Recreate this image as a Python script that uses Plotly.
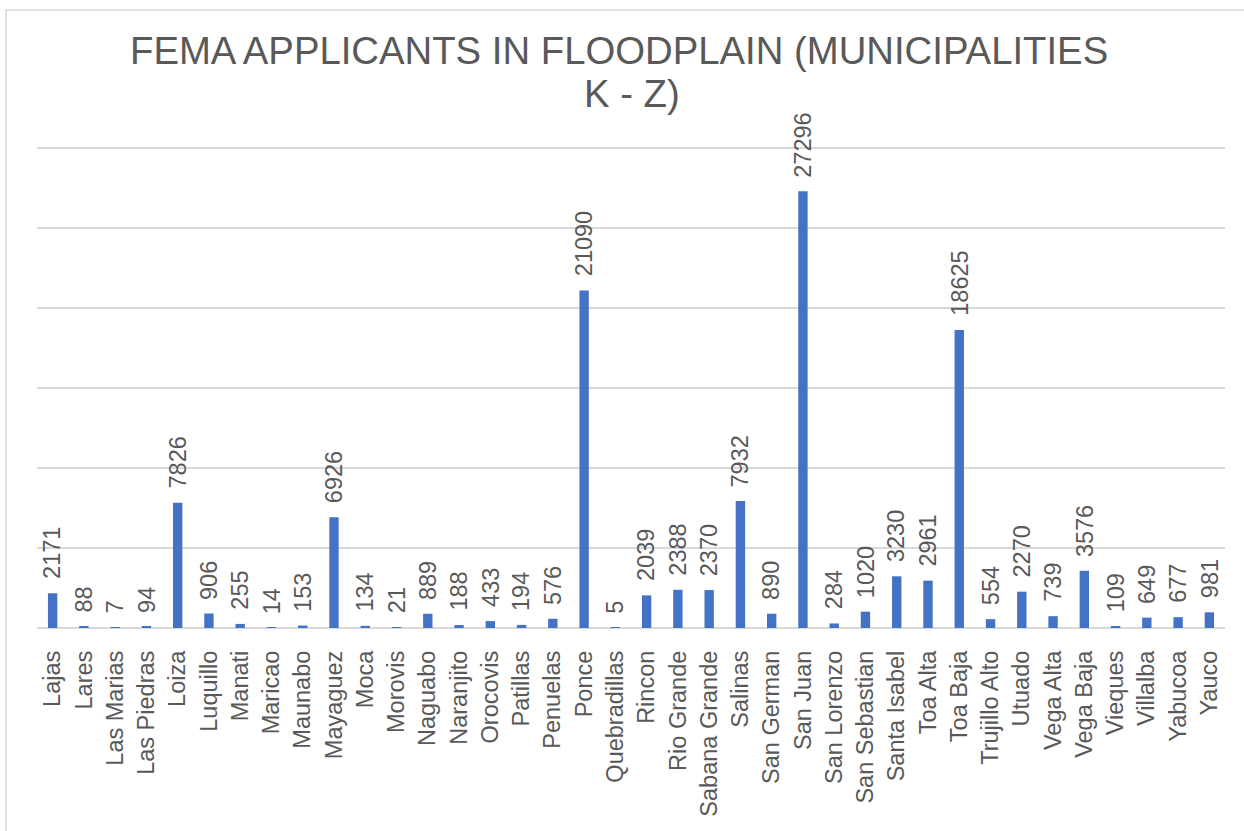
import plotly.graph_objects as go

municipalities = ["Lajas", "Lares", "Las Marias", "Las Piedras", "Loiza", "Luquillo", "Manati",
                  "Maricao", "Maunabo", "Mayaguez", "Moca", "Morovis", "Naguabo", "Naranjito",
                  "Orocovis", "Patillas", "Penuelas", "Ponce", "Quebradillas", "Rincon",
                  "Rio Grande", "Sabana Grande", "Salinas", "San German", "San Juan",
                  "San Lorenzo", "San Sebastian", "Santa Isabel", "Toa Alta", "Toa Baja",
                  "Trujillo Alto", "Utuado", "Vega Alta", "Vega Baja", "Vieques", "Villalba",
                  "Yabucoa", "Yauco"]
applicants = [2171, 88, 7, 94, 7826, 906, 255, 14, 153, 6926, 134, 21, 889, 188, 433, 194, 576,
              21090, 5, 2039, 2388, 2370, 7932, 890, 27296, 284, 1020, 3230, 2961, 18625, 554,
              2270, 739, 3576, 109, 649, 677, 981]
title_lines = ["FEMA APPLICANTS IN FLOODPLAIN (MUNICIPALITIES", "K - Z)"]

W, H = 1244, 831
L, R, T, B = 37, 19, 144, 203
pw, ph = W - L - R, H - T - B
YMAX = 30250
FONT = "Liberation Sans, Arial"
gray = "#595959"
grid = "#D9D9D9"

fig = go.Figure(go.Bar(
    x=municipalities, y=applicants,
    marker=dict(color="#4472C4", line=dict(width=0)),
    hoverinfo="x+y",
))

# data labels (rotated, above bars)
for m, v in zip(municipalities, applicants):
    fig.add_annotation(x=m, y=v, xref="x", yref="y", text=str(v), textangle=-90,
                       showarrow=False, yanchor="bottom", xanchor="center", yshift=12,
                       font=dict(family=FONT, size=23.5, color=gray))

def px_to_paper_x(px):
    return (px - L) / pw

def px_to_paper_y(py):
    return (H - B - py) / ph

# title (two centered lines)
for txt, cx, cy in zip(title_lines, [619, 632], [50, 93]):
    fig.add_annotation(x=px_to_paper_x(cx), y=px_to_paper_y(cy), xref="paper", yref="paper",
                       text=txt, showarrow=False, xanchor="center", yanchor="middle",
                       font=dict(family=FONT, size=38.3, color=gray))

fig.update_layout(
    width=W, height=H,
    margin=dict(l=L, r=R, t=T, b=B, autoexpand=False),
    paper_bgcolor="white", plot_bgcolor="white",
    bargap=0.70, showlegend=False,
    font=dict(family=FONT, color=gray),
)
fig.update_xaxes(tickangle=-90, tickfont=dict(size=23.5, color=gray), showgrid=False,
                 showline=False, ticks="", ticklabelstandoff=17)
fig.update_yaxes(range=[0, YMAX], tick0=0, dtick=5000, showticklabels=False, showgrid=True,
                 gridcolor=grid, gridwidth=1.5, zeroline=True, zerolinecolor=grid,
                 zerolinewidth=1.5, showline=False, ticks="")

# outer chart border (top and left edges visible)
fig.add_shape(type="rect", xref="paper", yref="paper",
              x0=px_to_paper_x(6), x1=px_to_paper_x(W + 20),
              y0=px_to_paper_y(H + 20), y1=px_to_paper_y(10),
              line=dict(color=grid, width=1.5), fillcolor="rgba(0,0,0,0)", layer="below")

fig.write_html("out.html", config={"displayModeBar": False},
               post_script="document.body.style.margin='0';")
